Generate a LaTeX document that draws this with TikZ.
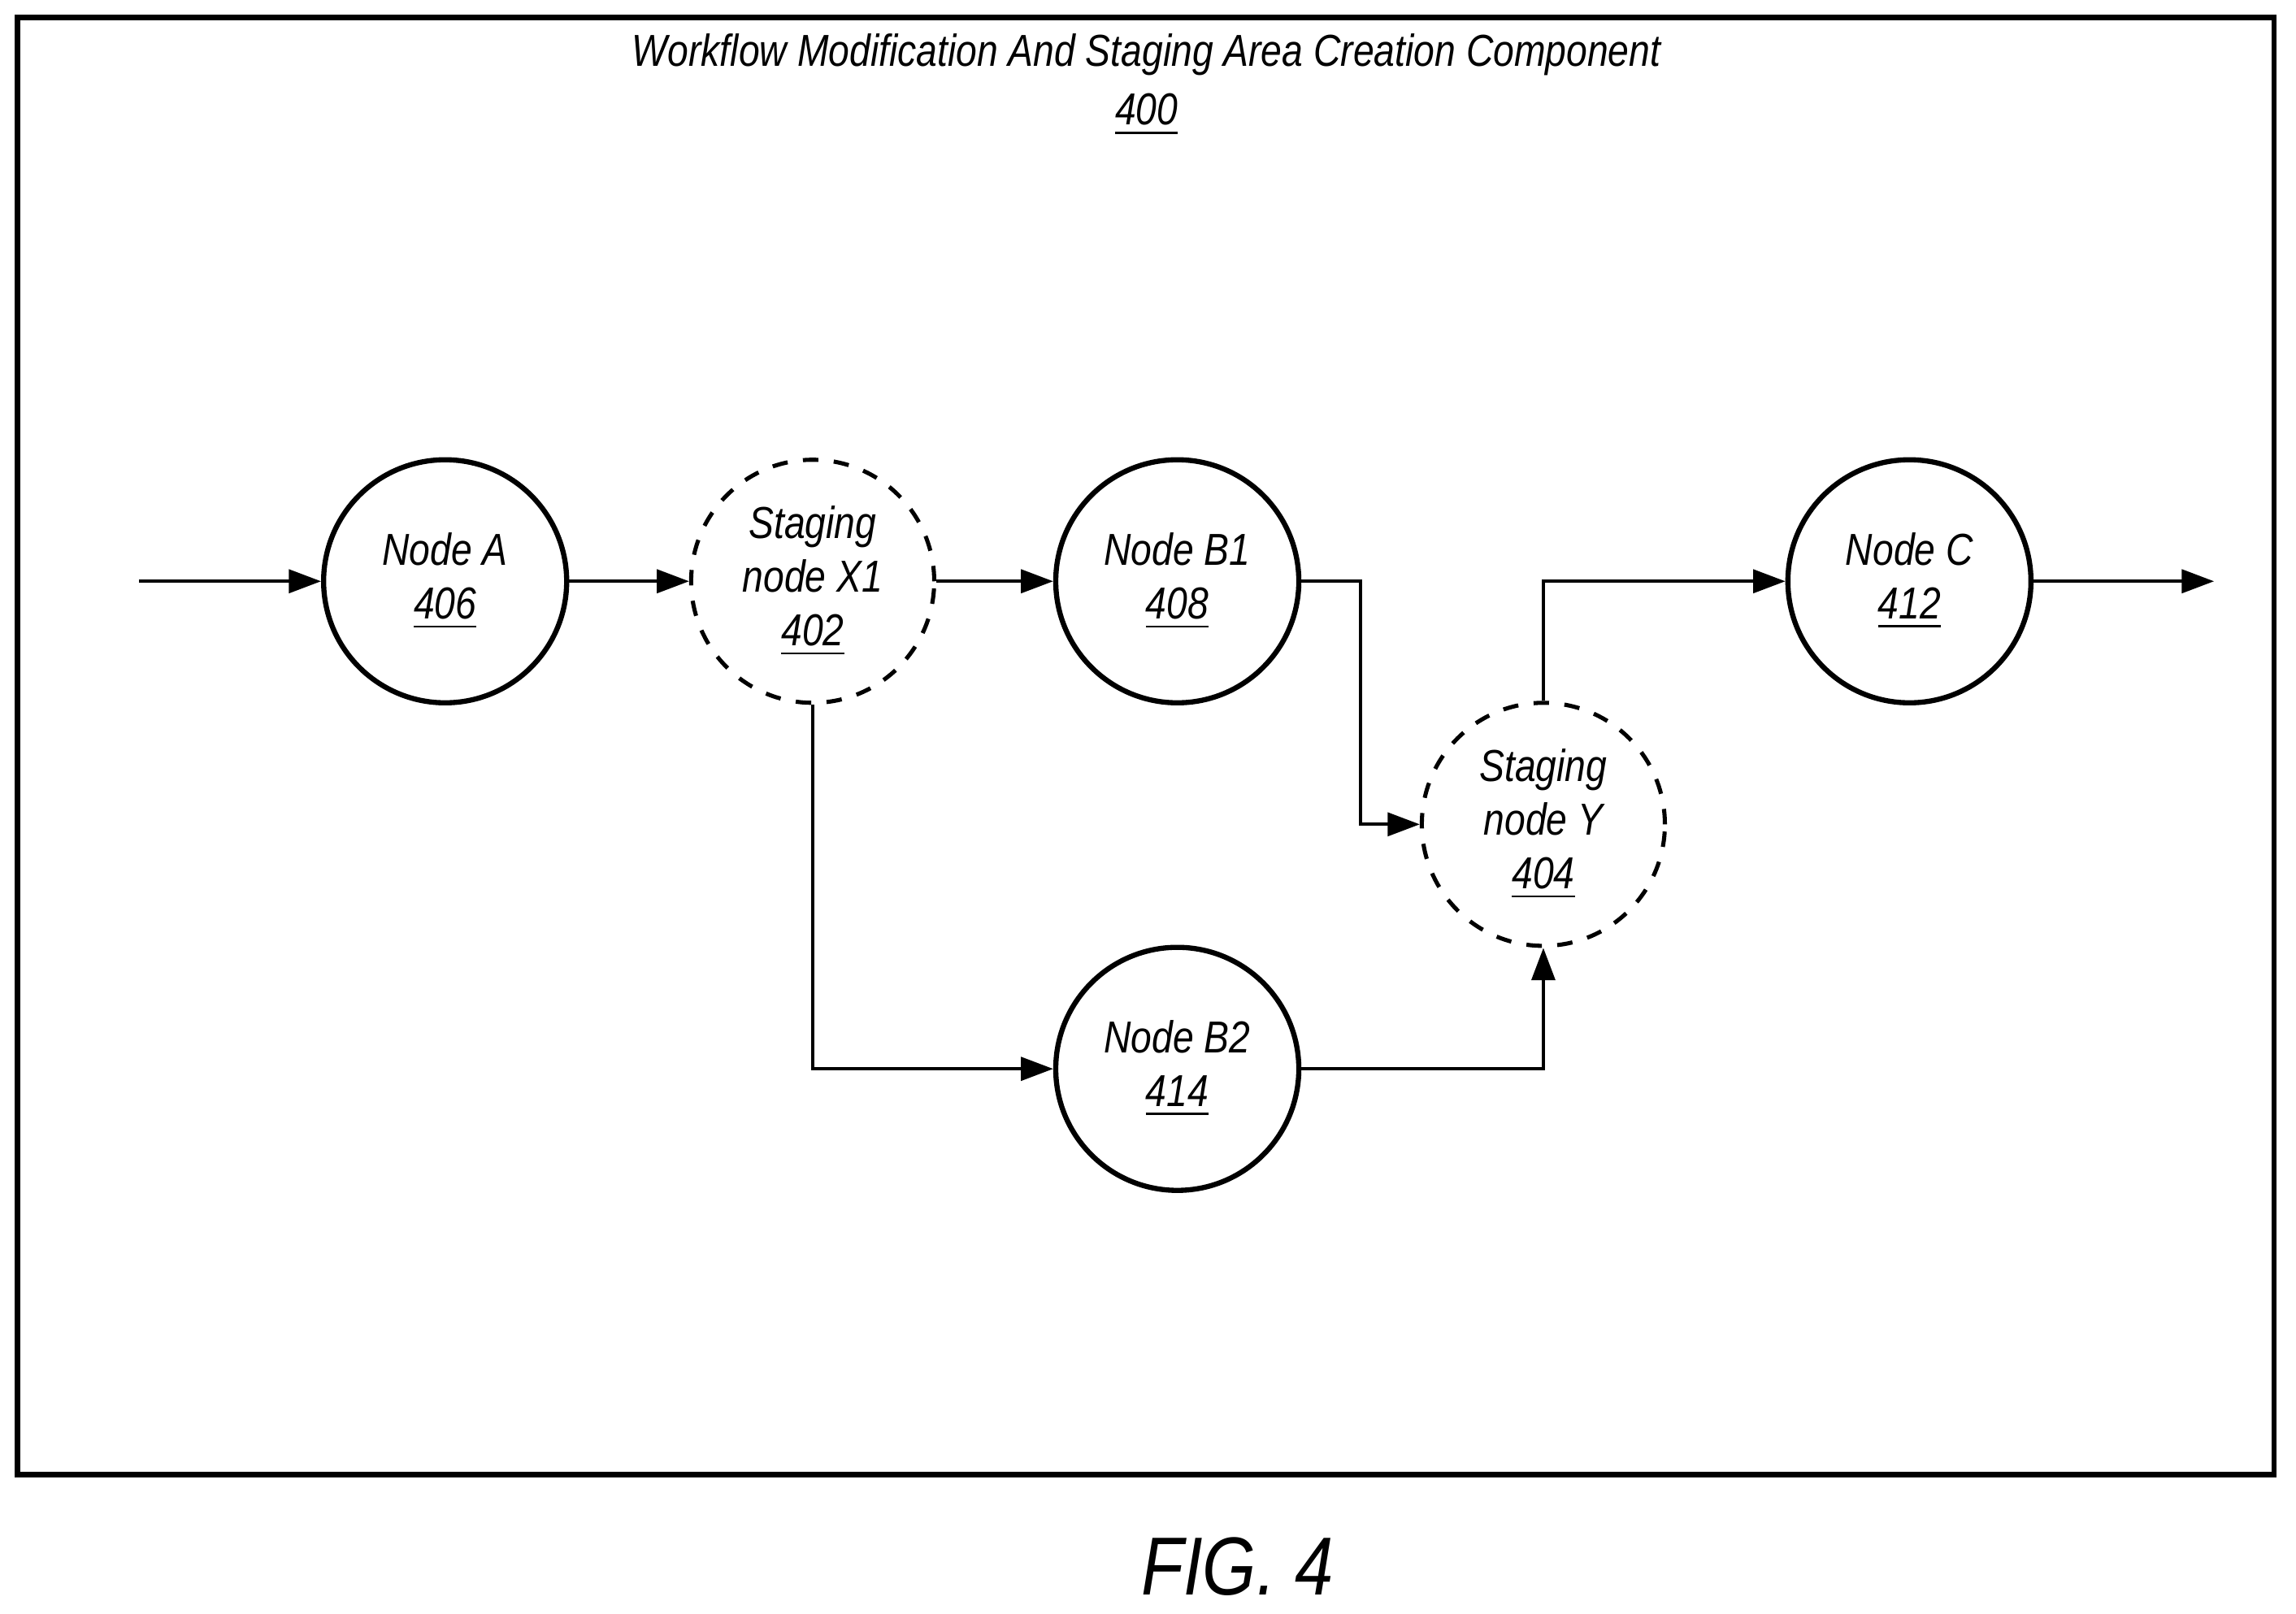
\documentclass[tikz,border=0pt]{standalone}
\usepackage{fontspec}
\setmainfont{Liberation Sans}[FakeStretch=0.84]
\usetikzlibrary{arrows.meta}
\begin{document}
\begin{tikzpicture}[x=0.1mm,y=-0.1mm,
  every node/.style={font=\fontsize{8.7}{10.4}\selectfont\itshape},
  nd/.style={circle,draw,line width=1pt,minimum size=16.6mm,inner sep=0pt,align=center},
  st/.style={nd,dashed,line width=0.8pt},
  ar/.style={line width=0.6pt,-{Triangle[length=2.2mm,width=1.6mm]}},
  ln/.style={line width=0.6pt}]
\useasboundingbox (0,0) rectangle (1568,1102);
\draw[line width=1.1pt] (12,12) rectangle (1553,1007);
\node (title) at (783,58) [align=center] {Workflow Modification And Staging Area Creation Component\\[1pt]\underline{400}};
\node[nd] (A) at (304,397) {Node A\\\underline{406}};
\node[st] (X) at (555,397) {Staging\\node X1\\\underline{402}};
\node[nd] (B1) at (804,397) {Node B1\\\underline{408}};
\node[st] (Y) at (1054,563) {Staging\\node Y\\\underline{404}};
\node[nd] (B2) at (804,730) {Node B2\\\underline{414}};
\node[nd] (C) at (1304,397) {Node C\\\underline{412}};
\coordinate (in) at (95,397);
\coordinate (out) at (1512,397);
\draw[ar] (in) -- (A);
\draw[ar] (A) -- (X);
\draw[ar] (X) -- (B1);
\draw[ar] (B1.east) -| (929,563) -- (Y.west);
\draw[ar] (X.south) |- (B2.west);
\draw[ar] (B2.east) -| (Y.south);
\draw[ar] (Y.north) |- (C.west);
\draw[ar] (C) -- (out);
\node[font=\fontsize{16}{19}\selectfont\itshape] (fig) at (845,1070) {FIG. 4};
\end{tikzpicture}
\end{document}
